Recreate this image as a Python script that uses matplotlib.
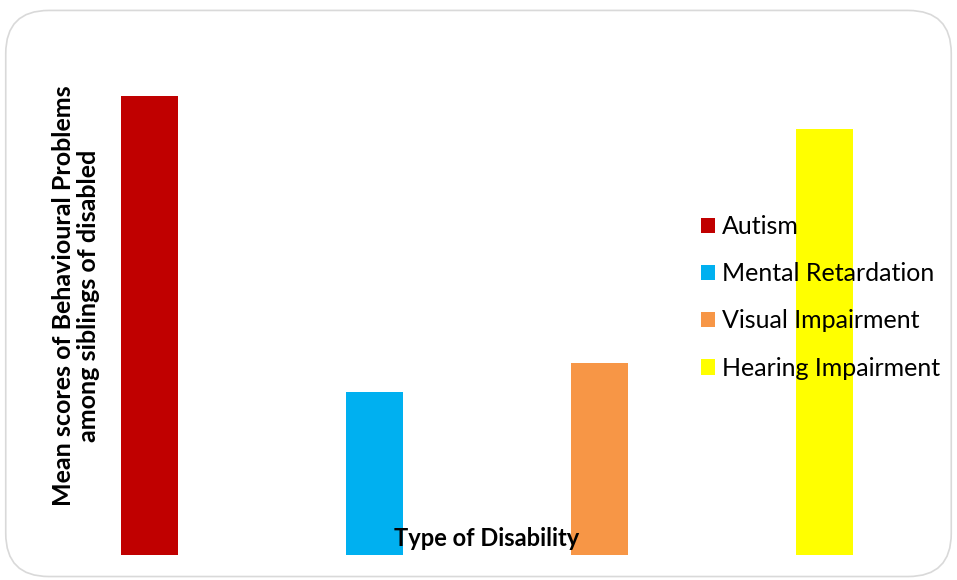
import matplotlib.pyplot as plt
from matplotlib.patches import FancyBboxPatch

# mean scores (no axis values shown, read as relative bar heights)
categories = ['Autism', 'Mental Retardation', 'Visual Impairment', 'Hearing Impairment']
scores = [45.9, 16.3, 19.2, 42.6]
colors = ['#c00000', '#00b0f0', '#f79646', '#ffff00']

plt.rcParams['font.family'] = ['Lato', 'DejaVu Sans']

fig = plt.figure(figsize=(9.57, 5.8), dpi=100)

# rounded chart border
box = FancyBboxPatch((0.006, 0.006), 0.988, 0.976,
                     boxstyle='round,pad=0,rounding_size=0.045',
                     transform=fig.transFigure, facecolor='none',
                     edgecolor='#d9d9d9', linewidth=1.2, mutation_aspect=957/580,
                     zorder=-1)
fig.patches.append(box)

ax = fig.add_axes([37/957, 25/580, 900/957, 500/580])
ax.patch.set_alpha(0)
x = range(len(categories))
bars = ax.bar(x, scores, width=0.253, color=colors, zorder=3)

ax.set_xlim(-0.5, 3.5)
ax.set_ylim(0, 50)
for s in ax.spines.values():
    s.set_visible(False)
ax.set_xticks([])
ax.set_yticks([])

ax.text(0.5, 0.034, 'Type of Disability', transform=ax.transAxes, ha='center',
        va='center', fontsize=17, fontweight='bold', zorder=4)
fig.text(76/957, 1 - 296/580, 'Mean scores of Behavioural Problems\namong siblings of disabled',
         rotation=90, ha='center', va='center', fontsize=18, fontweight='bold',
         linespacing=1.1)

leg = ax.legend(handles=list(bars), labels=categories, loc='upper left',
                bbox_to_anchor=(691/957, 1 - 205/580), bbox_transform=fig.transFigure,
                frameon=False, fontsize=18, handlelength=0.56, handleheight=0.56,
                handletextpad=0.28, labelspacing=0.97, borderaxespad=0)
leg.set_zorder(5)

fig.savefig('out.png', dpi=100)
